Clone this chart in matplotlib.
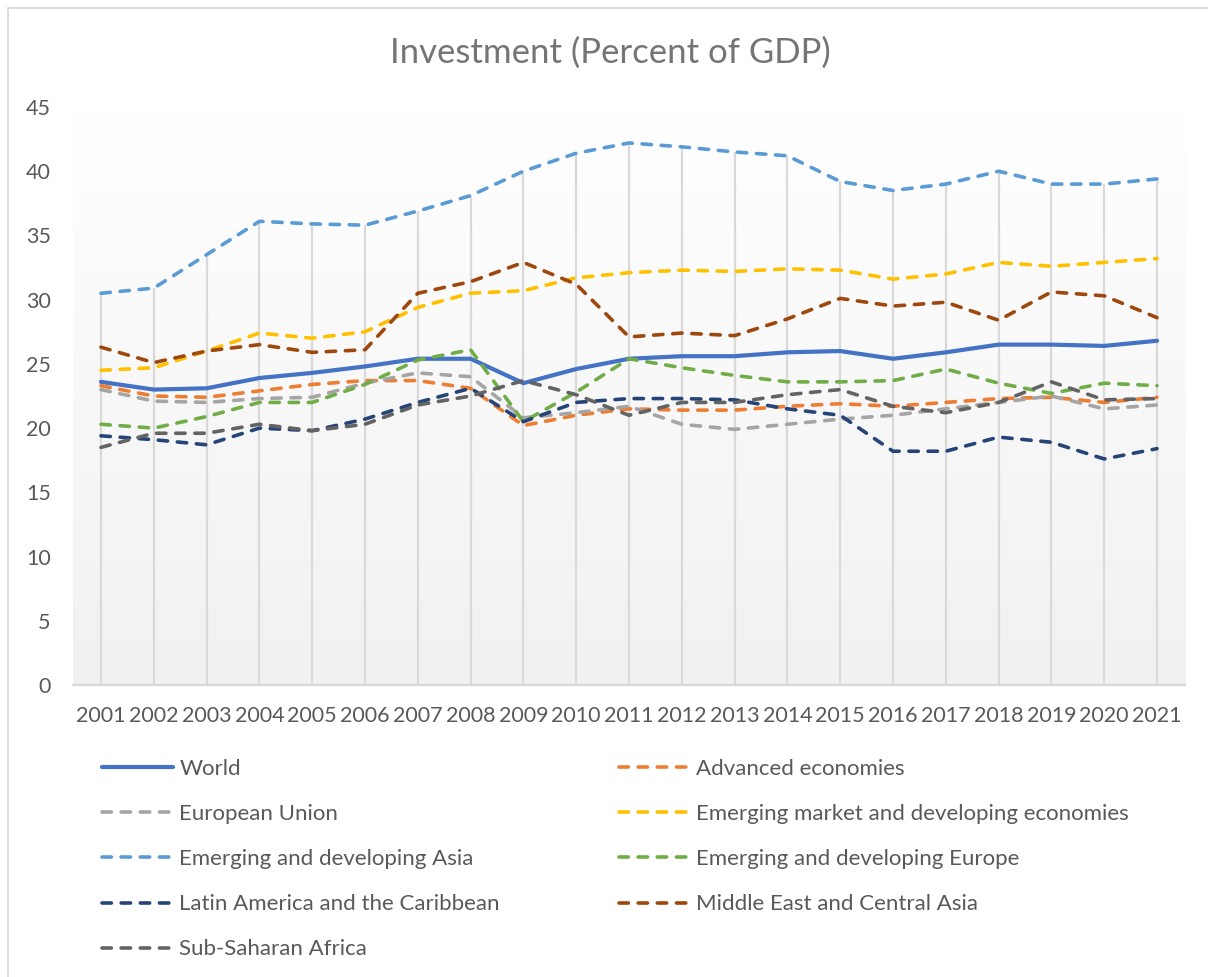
#%%
import numpy as np
import matplotlib.pyplot as plt
from matplotlib.patches import Rectangle
from matplotlib.colors import LinearSegmentedColormap

#%%
years = list(range(2001, 2022))

world    = [23.6, 23.0, 23.1, 23.9, 24.3, 24.8, 25.4, 25.4, 23.5, 24.6, 25.4, 25.6, 25.6, 25.9, 26.0, 25.4, 25.9, 26.5, 26.5, 26.4, 26.8]
advanced = [23.3, 22.5, 22.4, 22.9, 23.4, 23.7, 23.7, 23.1, 20.2, 21.0, 21.5, 21.4, 21.4, 21.7, 21.9, 21.7, 22.0, 22.3, 22.4, 22.0, 22.4]
eu       = [23.0, 22.1, 22.0, 22.3, 22.4, 23.5, 24.3, 24.0, 20.8, 21.2, 21.7, 20.3, 19.9, 20.3, 20.7, 21.0, 21.5, 22.0, 22.5, 21.5, 21.8]
emde     = [24.5, 24.7, 26.0, 27.4, 27.0, 27.5, 29.4, 30.5, 30.7, 31.7, 32.1, 32.3, 32.2, 32.4, 32.3, 31.6, 32.0, 32.9, 32.6, 32.9, 33.2]
em_asia  = [30.5, 30.9, 33.5, 36.1, 35.9, 35.8, 36.9, 38.1, 40.0, 41.4, 42.2, 41.9, 41.5, 41.2, 39.2, 38.5, 39.0, 40.0, 39.0, 39.0, 39.4]
em_eur   = [20.3, 20.0, 20.9, 22.0, 22.0, 23.4, 25.3, 26.1, 20.5, 22.8, 25.4, 24.7, 24.1, 23.6, 23.6, 23.7, 24.6, 23.5, 22.7, 23.5, 23.3]
latam    = [19.4, 19.1, 18.7, 20.0, 19.8, 20.7, 22.0, 23.1, 20.5, 22.0, 22.3, 22.3, 22.2, 21.5, 21.0, 18.2, 18.2, 19.3, 18.9, 17.6, 18.4]
mideast  = [26.3, 25.1, 26.0, 26.5, 25.9, 26.1, 30.5, 31.4, 32.9, 31.2, 27.1, 27.4, 27.2, 28.5, 30.1, 29.5, 29.8, 28.4, 30.6, 30.3, 28.6]
ssa      = [18.5, 19.6, 19.6, 20.3, 19.8, 20.3, 21.8, 22.5, 23.7, 22.6, 21.0, 22.0, 22.0, 22.6, 23.0, 21.7, 21.2, 22.0, 23.6, 22.2, 22.3]

names = ['World', 'Advanced economies', 'European Union', 'Emerging market and developing economies',
         'Emerging and developing Asia', 'Emerging and developing Europe', 'Latin America and the Caribbean',
         'Middle East and Central Asia', 'Sub-Saharan Africa']
series = [world, advanced, eu, emde, em_asia, em_eur, latam, mideast, ssa]
colors = ['#4472C4', '#ED7D31', '#A5A5A5', '#FFC000', '#5B9BD5', '#70AD47', '#264478', '#9E480E', '#636363']

#%%
plt.rcParams['font.family'] = ['Lato', 'DejaVu Sans']
txt = '#595959'

fig = plt.figure(figsize=(12.08, 9.77), dpi=100)
ax = fig.add_axes([73/1208, 1 - 685/977, (1185 - 73)/1208, (685 - 107)/977])

# plot area gradient (white at top, light grey at bottom)
grad = np.linspace(1.0, 0.0, 256).reshape(-1, 1)
ax.imshow(grad, extent=[0, 1, 0, 1], transform=ax.transAxes, aspect='auto',
          cmap=LinearSegmentedColormap.from_list('g', ['#f1f1f1', '#ffffff']), zorder=0)

# drop lines from the highest series down to the axis
tops = np.max(np.array(series), axis=0)
ax.vlines(years, 0, tops, color='#d9d9d9', lw=1.6, zorder=1)

handles = []
for name, y, c in zip(names, series, colors):
    if name == 'World':
        h, = ax.plot(years, y, color=c, lw=3.0, solid_capstyle='round', zorder=3, label=name)
    else:
        h, = ax.plot(years, y, color=c, lw=2.6, ls=(0, (2.6, 2.7)), dash_capstyle='round', zorder=3, label=name)
    handles.append(h)

ax.set_xlim(2000.47, 2021.53)
ax.set_ylim(0, 45)
ax.set_yticks(range(0, 46, 5))
ax.set_xticks(years)
ax.tick_params(axis='both', length=0, labelsize=15.5, labelcolor=txt)
ax.tick_params(axis='x', pad=15)
ax.tick_params(axis='y', pad=16)
for s in ['top', 'right', 'left']:
    ax.spines[s].set_visible(False)
ax.spines['bottom'].set_color('#d9d9d9')
ax.spines['bottom'].set_linewidth(1.6)

fig.text(0.505, 1 - 53/977, 'Investment (Percent of GDP)', ha='center', va='center', fontsize=25, color='#757575')

# two legend columns placed separately
leg_kw = dict(frameon=False, loc='upper left', fontsize=16, labelcolor=txt, handlelength=3.2,
              handletextpad=0.28, labelspacing=1.13, borderpad=0, borderaxespad=0)
col1 = [0, 2, 4, 6, 8]
col2 = [1, 3, 5, 7]
fig.legend([handles[i] for i in col1], [names[i] for i in col1],
           bbox_to_anchor=(102/1208, 1 - 759/977), **leg_kw)
fig.legend([handles[i] for i in col2], [names[i] for i in col2],
           bbox_to_anchor=(619/1208, 1 - 759/977), **leg_kw)

fig.add_artist(Rectangle((8/1208, -0.1), 1.2, 1.1 - 8/977, transform=fig.transFigure,
                         fill=False, edgecolor='#d9d9d9', lw=1.3))

fig.savefig('out.png', dpi=100)
